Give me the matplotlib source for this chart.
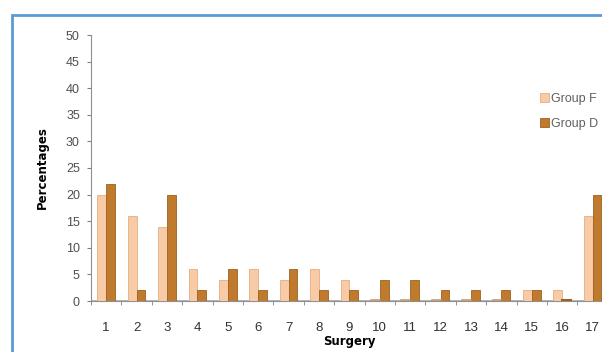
import matplotlib
matplotlib.use("Agg")
import matplotlib.pyplot as plt
from matplotlib.patches import Rectangle
import numpy as np

categories = [str(i) for i in range(1, 18)]
group_f = [20, 16, 14, 6, 4, 6, 4, 6, 4, 0, 0, 0, 0, 0, 2, 2, 16]
group_d = [22, 2, 20, 2, 6, 2, 6, 2, 2, 4, 4, 2, 2, 2, 2, 0, 20]
yticks = list(range(0, 51, 5))

plt.rcParams['font.family'] = ['Liberation Sans', 'DejaVu Sans']

W, H = 602, 352
fig = plt.figure(figsize=(W / 100, H / 100), dpi=100)
fig.patch.set_facecolor('white')

# blue frame
fig.patches.append(Rectangle((12 / W, -0.1), 1.2, 1 - 15 / H + 0.1,
                             transform=fig.transFigure, fill=False,
                             edgecolor='#5B9BD5', linewidth=2.0, zorder=0))

ax_left, ax_bottom = 91 / W, 51 / H
ax_w = 17 * 30.4 / W
ax_h = (301 - 35) / H
ax = fig.add_axes([ax_left, ax_bottom, ax_w, ax_h])
ax.set_facecolor('white')

x = np.arange(1, 18)
bw = 0.29
cf = '#F8CBA6'
cd = '#BF7A2E'
ax.bar(x - bw / 2, group_f, bw, color=cf, edgecolor='#E3AE85', linewidth=0.6, label='Group F', zorder=3)
ax.bar(x + bw / 2, group_d, bw, color=cd, edgecolor='#9E6020', linewidth=0.6, label='Group D', zorder=3)
# stubs for zero values
for xi, v in zip(x, group_f):
    if v == 0:
        ax.plot([xi - bw, xi], [0.15, 0.15], color='#C99A70', lw=1.2, zorder=4)
for xi, v in zip(x, group_d):
    if v == 0:
        ax.plot([xi, xi + bw], [0.15, 0.15], color='#9E6020', lw=1.5, zorder=4)

ax.axhline(0, color='#A0A0A0', lw=1.8, zorder=2)

ax.set_xlim(0.5, 17.5)
ax.set_ylim(0, 50)
ax.set_yticks(yticks)
ax.set_yticklabels([str(t) for t in yticks], color='#505050', fontsize=9)
ax.set_xticks(x)
ax.set_xticklabels(categories, color='#303030', fontsize=9.5)
ax.set_xticks(np.arange(0.5, 18, 1), minor=True)
ax.tick_params(axis='x', which='major', length=0, pad=15)
ax.tick_params(axis='x', which='minor', length=3, color='#808080', direction='out')
ax.tick_params(axis='y', length=3, color='#808080', pad=5)

for s in ['top', 'right']:
    ax.spines[s].set_visible(False)
ax.spines['left'].set_color('#909090')
ax.spines['bottom'].set_color('#909090')

ax.set_ylabel('Percentages', fontsize=8.5, fontweight='bold', labelpad=12, family='DejaVu Sans')
ax.set_xlabel('Surgery', fontsize=8.5, fontweight='bold', labelpad=1, family='DejaVu Sans')

leg = ax.legend(loc='upper left', bbox_to_anchor=((535 - 91) / (17 * 30.4), 1 - (88 - 35) / 266),
                frameon=False, fontsize=9, handlelength=0.7, handleheight=0.7,
                handletextpad=0.2, labelspacing=1.0, borderaxespad=0)
for t in leg.get_texts():
    t.set_color('#606060')

fig.savefig('out.png', dpi=100)
